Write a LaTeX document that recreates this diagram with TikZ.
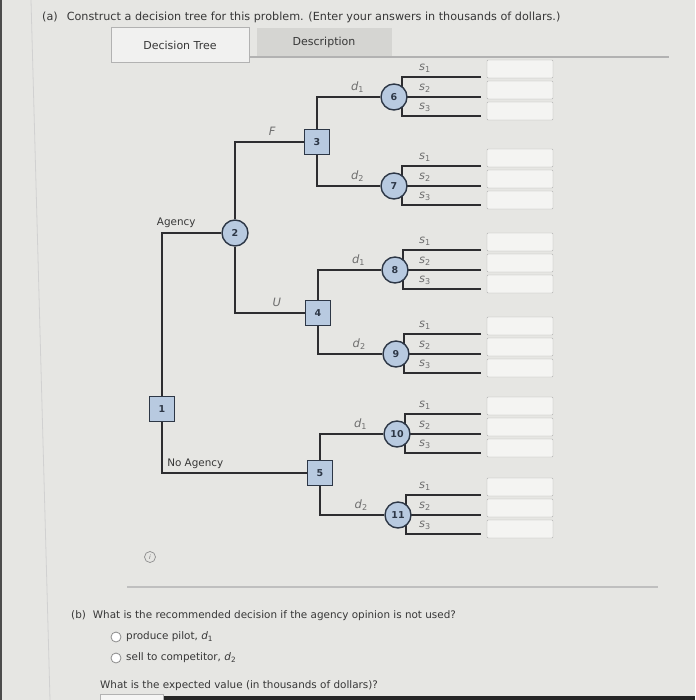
\documentclass[tikz,border=0pt]{standalone}
\usepackage{fontspec}
\setmainfont{DejaVu Sans}
\usepackage{tikz}
\usetikzlibrary{calc, backgrounds}
\definecolor{pagebg}{RGB}{230,230,227}
\definecolor{tabgray}{RGB}{213,213,210}
\definecolor{nodefill}{RGB}{184,202,224}
\definecolor{nodeedge}{RGB}{45,55,70}
\definecolor{branchgray}{RGB}{45,45,48}
\definecolor{labelgray}{RGB}{110,110,110}
\definecolor{textgray}{RGB}{55,55,55}
\newcommand{\dv}[1]{\textit{d}\textsubscript{#1}}
\newcommand{\sv}[1]{\textit{s}\textsubscript{#1}}

\begin{document}
\begin{tikzpicture}[x=1pt, y=-1pt,
    decision/.style={rectangle, draw=nodeedge, fill=nodefill, line width=1.4pt,
                     minimum size=25pt, inner sep=0pt, text=nodeedge,
                     font=\fontsize{9.5}{10}\selectfont\bfseries},
    chance/.style={circle, draw=nodeedge, fill=nodefill, line width=1.4pt,
                   minimum size=26pt, inner sep=0pt, text=nodeedge,
                   font=\fontsize{9.5}{10}\selectfont\bfseries},
    branch/.style={draw=branchgray, line width=1.9pt},
    ansbox/.style={rectangle, draw=black!30, fill=white!55!pagebg, rounded corners=1pt,
                   minimum width=66pt, minimum height=18pt, inner sep=0pt},
    tlabel/.style={font=\fontsize{10.4}{12}\selectfont, text=textgray},
    vlabel/.style={font=\fontsize{11.5}{13}\selectfont, text=labelgray},
    body/.style={font=\fontsize{10.4}{12}\selectfont, text=textgray, anchor=west, inner sep=0pt},
    radio/.style={circle, draw=black!45, fill=white, line width=0.8pt, minimum size=10pt, inner sep=0pt},
]
    \useasboundingbox (0,0) rectangle (695,700);
    \begin{scope}[on background layer]
        \fill[pagebg] (0,0) rectangle (695,700);
    \end{scope}
    \fill[black!70] (0,0) rectangle (2,700);
    \draw[black!18, line width=0.8pt] (31,0) -- (50,700);
    \fill[black!85] (120,696) rectangle (695,700);
    \draw[black!30, fill=white!60!pagebg] (100,694) rectangle (163,701);

    % heading and tabs
    \node[body, font=\fontsize{11.2}{13}\selectfont] (title) at (42,17) {(a)\hspace{9pt}Construct a decision tree for this problem. (Enter your answers in thousands of dollars.)};
    \node[rectangle, draw=black!30, fill=white!45!pagebg, line width=0.9pt, minimum width=138pt, minimum height=35pt,
          font=\fontsize{11}{13}\selectfont, text=textgray] (tabtree) at (180,45) {Decision Tree};
    \node[rectangle, fill=tabgray, minimum width=135pt, minimum height=29pt,
          font=\fontsize{11}{13}\selectfont, text=textgray] (tabdesc) at (324,42.5) {Description};
    \coordinate (tabend) at (669,57);
    \draw[black!30, line width=1.3pt] (tabtree.east |- tabend) -- (tabend);

    % decision and chance nodes
    \node[decision] (n1) at (162,409) {1};
    \node[chance]   (n2) at (235,233) {2};
    \node[decision] (n3) at (317,142) {3};
    \node[decision] (n4) at (318,313) {4};
    \node[decision] (n5) at (320,473) {5};
    \node[chance] (c6)  at (394,97)  {6};
    \node[chance] (c7)  at (394,186) {7};
    \node[chance] (c8)  at (395,270) {8};
    \node[chance] (c9)  at (396,354) {9};
    \node[chance] (c10) at (397,434) {10};
    \node[chance] (c11) at (398,515) {11};

    \begin{scope}[on background layer]
        \draw[branch] (n1) |- (n2) node[tlabel, pos=0.62, above=1pt] (lagency) {Agency};
        \draw[branch] (n1) |- (n5) node[tlabel, pos=0.5, anchor=south west, xshift=1pt] (lnoagency) {No Agency};
        \draw[branch] (n2) |- (n3) node[vlabel, pos=0.77, above=2pt] (lf) {\textit{F}};
        \draw[branch] (n2) |- (n4) node[vlabel, pos=0.8, above=2pt] (lu) {\textit{U}};
        \draw[branch] (n3) |- (c6)  node[vlabel, pos=0.82, above] (l6) {\dv1};
        \draw[branch] (n3) |- (c7)  node[vlabel, pos=0.82, above] (l7) {\dv2};
        \draw[branch] (n4) |- (c8)  node[vlabel, pos=0.82, above] (l8) {\dv1};
        \draw[branch] (n4) |- (c9)  node[vlabel, pos=0.82, above] (l9) {\dv2};
        \draw[branch] (n5) |- (c10) node[vlabel, pos=0.82, above] (l10) {\dv1};
        \draw[branch] (n5) |- (c11) node[vlabel, pos=0.82, above] (l11) {\dv2};
    \end{scope}

    % outcome branches with answer boxes
    \foreach \c/\y in {c6/97, c7/186, c8/270, c9/354, c10/434, c11/515} {
        \coordinate (\c-b) at ($(\c)+(8,0)$);
        \coordinate (\c-e1) at (481,\y-20);
        \coordinate (\c-e2) at (481,\y);
        \coordinate (\c-e3) at (481,\y+19);
        \begin{scope}[on background layer]
            \draw[branch] (\c-e1) -| (\c-b) |- (\c-e3);
            \draw[branch] (\c-b) -- (\c-e2);
        \end{scope}
        \node[vlabel] (\c-s1) at (425,\y-29) {\sv1};
        \node[vlabel] (\c-s2) at (425,\y-9)  {\sv2};
        \node[vlabel] (\c-s3) at (425,\y+10) {\sv3};
        \node[ansbox] (\c-a1) at (520,\y-28) {};
        \node[ansbox] (\c-a2) at (520,\y-7)  {};
        \node[ansbox] (\c-a3) at (520,\y+14) {};
    }

    % part (b)
    \node[circle, draw=black!45, line width=0.7pt, minimum size=11pt, inner sep=0pt,
          font=\fontsize{6}{6}\selectfont\itshape, text=black!60] (info) at (150,557) {i};
    \coordinate (rulestart) at (127,587);
    \coordinate (ruleend) at (658,587);
    \draw[black!25, line width=1.3pt] (rulestart) -- (ruleend);
    \node[body] (qb) at (71,616) {(b)\hspace{7pt}What is the recommended decision if the agency opinion is not used?};
    \node[radio] (r1) at (116,637) {};
    \node[body] (opt1) at (126,637) {produce pilot, \dv1};
    \node[radio] (r2) at (116,658) {};
    \node[body] (opt2) at (126,658) {sell to competitor, \dv2};
    \node[body] (qev) at (100,686) {What is the expected value (in thousands of dollars)?};
\end{tikzpicture}
\end{document}
